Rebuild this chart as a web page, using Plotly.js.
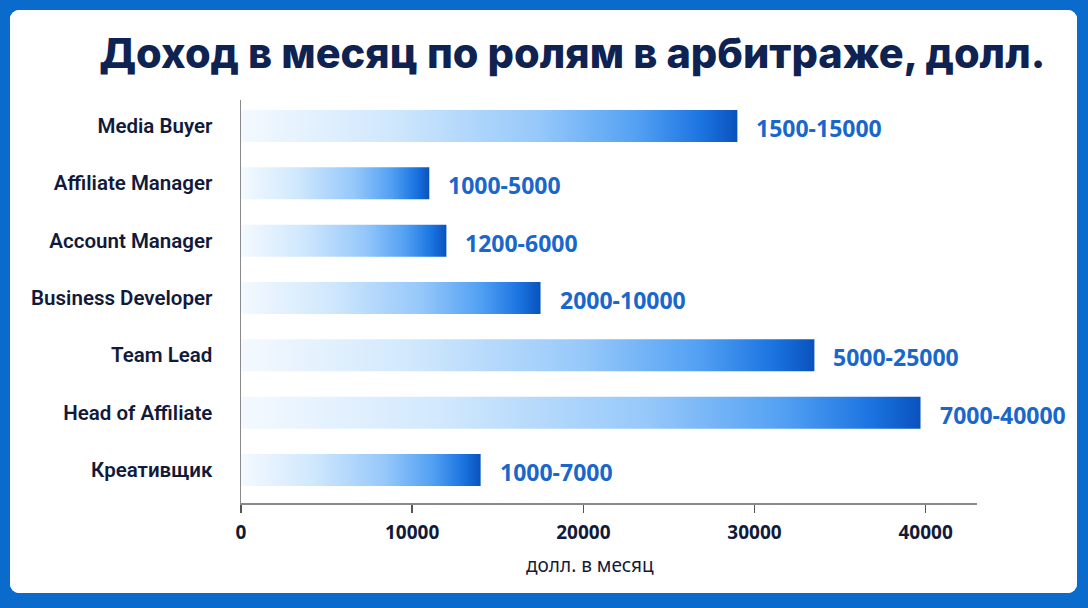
<!DOCTYPE html>
<html>
<head>
<meta charset="utf-8">
<script src="https://cdn.plot.ly/plotly-3.0.1.min.js"></script>
<style>
  html, body { margin: 0; padding: 0; width: 1088px; height: 608px; background: #0b6bcc; overflow: hidden; }
  #frame { position: absolute; left: 10px; top: 10px; width: 1067px; height: 583px; border-radius: 9px; overflow: hidden; background: #ffffff; }
  #chart { width: 1067px; height: 583px; }
</style>
</head>
<body>
<div id="frame"><div id="chart"></div></div>
<script>
// ---- data ----
const categories = ["Media Buyer", "Affiliate Manager", "Account Manager", "Business Developer", "Team Lead", "Head of Affiliate", "Креативщик"];
const barValues = [29000, 11000, 12000, 17500, 33500, 39700, 14000];
const rangeLabels = ["1500-15000", "1000-5000", "1200-6000", "2000-10000", "5000-25000", "7000-40000", "1000-7000"];
const xTickValues = [0, 10000, 20000, 30000, 40000];

const titleText = "Доход в месяц по ролям в арбитраже, долл.";
const xTitleText = "долл. в месяц";

// ---- styling ----
const halfBar = 0.279;
const gradient = [[0, '#f4f9ff'], [0.3, '#d0e8fd'], [0.6, '#96c8fa'], [0.8, '#52a0f3'], [0.93, '#1a73e0'], [1, '#0a52bd']];
const navy = '#121a3a';
const labelBlue = '#1a67cc';

const traces = categories.map((c, i) => ({
  type: 'scatter',
  mode: 'lines',
  x: [0, barValues[i], barValues[i], 0, 0],
  y: [i - halfBar, i - halfBar, i + halfBar, i + halfBar, i - halfBar],
  fill: 'toself',
  fillgradient: { type: 'horizontal', colorscale: gradient },
  line: { width: 0, color: 'rgba(0,0,0,0)' },
  hoverinfo: 'skip',
  showlegend: false,
  name: c
}));

const annotations = categories.map((c, i) => ({
  x: barValues[i], y: i, xref: 'x', yref: 'y',
  text: rangeLabels[i], showarrow: false,
  xanchor: 'left', yanchor: 'middle', xshift: 17, yshift: -2,
  font: { family: 'Noto Sans, sans-serif', size: 23, color: labelBlue, weight: 700 }
}));
annotations.push({
  x: 0.474, y: 0, xref: 'paper', yref: 'paper', yshift: -47,
  text: xTitleText, showarrow: false, xanchor: 'center', yanchor: 'top',
  font: { family: 'Noto Sans, sans-serif', size: 19, color: navy }
});

const layout = {
  width: 1067, height: 583,
  paper_bgcolor: '#ffffff', plot_bgcolor: '#ffffff',
  margin: { l: 231, r: 100, t: 90, b: 90 },
  title: {
    text: titleText,
    x: 0.527, xanchor: 'center', y: 0.926, yanchor: 'middle',
    font: { family: 'Inter, Noto Sans, sans-serif', size: 41.5, color: '#0f2352', weight: 800 }
  },
  xaxis: {
    range: [0, 43000],
    tickvals: xTickValues,
    ticktext: xTickValues.map(String),
    showgrid: false, zeroline: false,
    showline: true, linecolor: '#8a8a8a', linewidth: 1.5,
    ticks: 'outside', ticklen: 8, tickcolor: '#555555', tickwidth: 1.5,
    ticklabelstandoff: 4,
    tickfont: { family: 'Noto Sans, sans-serif', size: 19, color: navy, weight: 700 }
  },
  yaxis: {
    range: [6.576, -0.453],
    tickvals: categories.map((c, i) => i),
    ticktext: categories,
    showgrid: false, zeroline: false,
    showline: true, linecolor: '#8a8a8a', linewidth: 1.5,
    ticks: '', ticklabelstandoff: 23,
    tickfont: { family: 'Roboto, sans-serif', size: 20.5, color: navy, weight: 600 }
  },
  annotations: annotations,
  showlegend: false
};

Plotly.newPlot('chart', traces, layout, { displayModeBar: false, staticPlot: true });
</script>
</body>
</html>
